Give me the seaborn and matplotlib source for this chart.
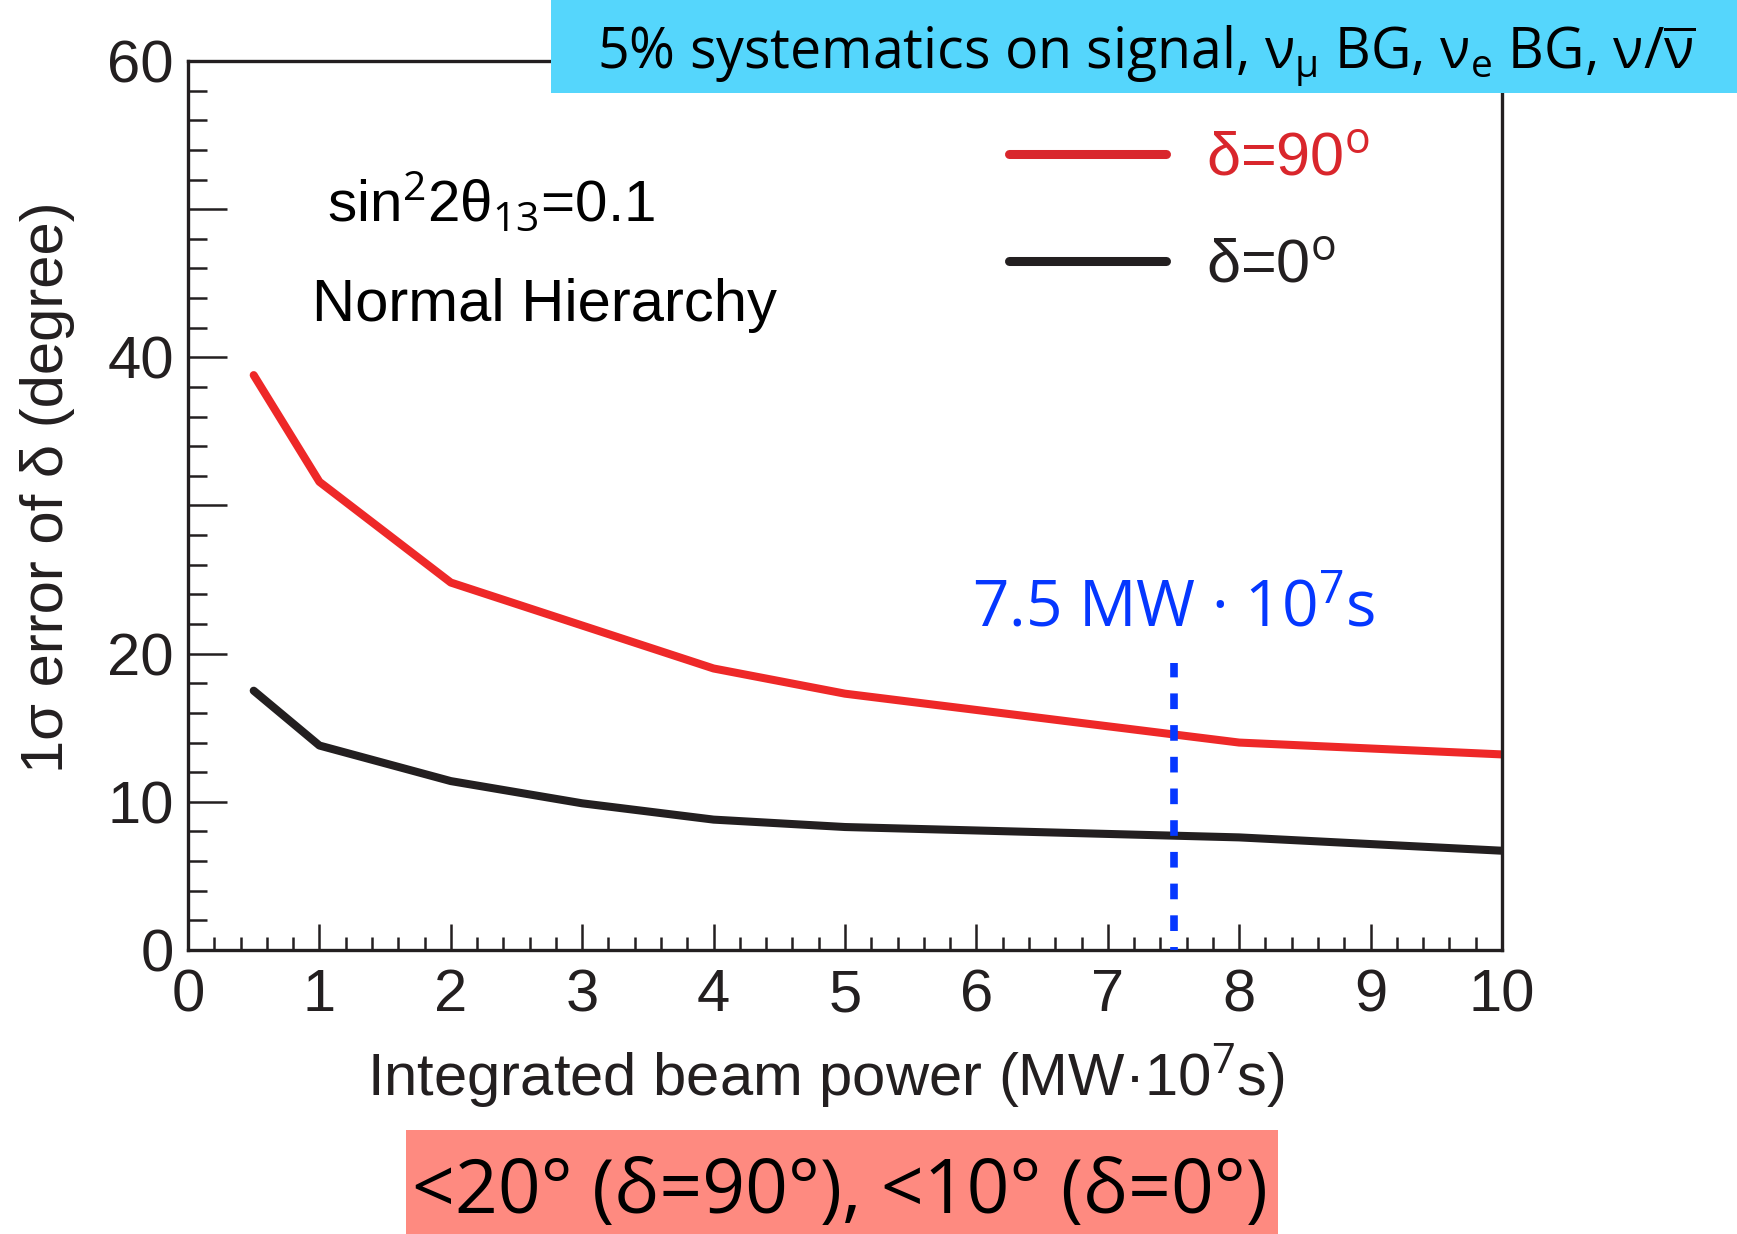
import numpy as np
import pandas as pd
import matplotlib
matplotlib.use("Agg")
import matplotlib.pyplot as plt
import seaborn as sns
from matplotlib.patches import Rectangle
from matplotlib.ticker import MultipleLocator, FixedLocator, FixedFormatter

# ---------------- data ----------------
power = [0.5, 1, 2, 3, 4, 5, 8, 10]
err_delta90 = [38.8, 31.6, 24.8, 21.9, 19.0, 17.3, 14.0, 13.2]
err_delta0 = [17.5, 13.8, 11.4, 9.9, 8.8, 8.3, 7.6, 6.7]
label_90 = "δ=90$^{\\mathrm{o}}$"
label_0 = "δ=0$^{\\mathrm{o}}$"
marker_x = 7.5
marker_top = 19.4
ytick_values = [0, 10, 20, 30, 40, 50, 60]
ytick_labels = ["0", "10", "20", "", "40", "", "60"]
xtick_values = list(range(0, 11))

# ---------------- style ----------------
sns.set_style("white")
plt.rcParams["font.family"] = ["Liberation Sans", "DejaVu Sans"]
plt.rcParams["mathtext.fontset"] = "custom"
plt.rcParams["mathtext.rm"] = "Open Sans"
plt.rcParams["mathtext.it"] = "Open Sans:italic"
plt.rcParams["mathtext.bf"] = "Open Sans:bold"

RED = "#ee2828"
LEGRED = "#d9262c"
BLACK = "#231f20"
BLUE = "#0537ff"
CYAN = "#55d6fc"
SALMON = "#fe8a80"

fig = plt.figure(figsize=(17.37, 12.34), dpi=100)
ax = fig.add_axes([188 / 1737, 1 - 950 / 1234, (1502 - 188) / 1737, (950 - 61) / 1234])

df = pd.concat([
    pd.DataFrame({"power": power, "err": err_delta90, "case": label_90}),
    pd.DataFrame({"power": power, "err": err_delta0, "case": label_0}),
], ignore_index=True)

sns.lineplot(data=df, x="power", y="err", hue="case", hue_order=[label_90, label_0],
             palette=[RED, BLACK], lw=5.8, ax=ax, estimator=None, sort=False)

ax.vlines(marker_x, 0, marker_top, colors=BLUE, linestyles=(1.66, (2.05, 2.1)), lw=5.5, zorder=5)

ax.set_xlim(0, 10)
ax.set_ylim(0, 60)

ax.xaxis.set_major_locator(FixedLocator(xtick_values))
ax.xaxis.set_minor_locator(MultipleLocator(0.2))
ax.yaxis.set_major_locator(FixedLocator(ytick_values))
ax.yaxis.set_major_formatter(FixedFormatter(ytick_labels))
ax.yaxis.set_minor_locator(MultipleLocator(2))

for s in ax.spines.values():
    s.set_linewidth(2.4)
    s.set_color(BLACK)

ax.tick_params(axis="y", which="major", direction="in", length=28, width=1.8,
               labelsize=43, pad=10, colors=BLACK, left=True, right=False)
ax.tick_params(axis="y", which="minor", direction="in", length=14, width=1.8,
               left=True, right=False, colors=BLACK)
ax.tick_params(axis="x", which="major", direction="in", length=19, width=1.8,
               labelsize=43, pad=13, colors=BLACK, bottom=True, top=False)
ax.tick_params(axis="x", which="minor", direction="in", length=9.5, width=1.8,
               bottom=True, top=False, colors=BLACK)

ax.set_xlabel("Integrated beam power (MW·10$^{7}$s)", fontsize=43, color=BLACK)
ax.set_ylabel("1σ error of δ (degree)", fontsize=43, color=BLACK)
ax.xaxis.set_label_coords(0.485, -0.103)
ax.yaxis.set_label_coords(-0.086, 0.521)

old = ax.get_legend()
handles = old.legend_handles
labels = [t.get_text() for t in old.get_texts()]
leg = ax.legend(handles, labels, loc="upper left", bbox_to_anchor=(0.625, 0.921),
                frameon=False, fontsize=44, handlelength=2.57, handletextpad=0.65,
                labelspacing=0.82, borderpad=0, borderaxespad=0)
for t, c in zip(leg.get_texts(), [LEGRED, BLACK]):
    t.set_color(c)
for ln, c in zip(leg.get_lines(), [LEGRED, BLACK]):
    ln.set_linewidth(6.5)
    ln.set_color(c)

ax.text(1.06, 50.5, "sin$^{\\mathrm{2}}$2θ$_{\\mathrm{13}}$=0.1", fontsize=42, color="black",
        va="center", ha="left")
ax.text(0.945, 43.5, "Normal Hierarchy", fontsize=43, color="black", va="center", ha="left")

ax.text(marker_x, 21.8, "7.5 MW · 10$^{7}$s", fontsize=46, color=BLUE, ha="center",
        va="baseline", family=["Open Sans", "DejaVu Sans"])

# top box
fig.add_artist(Rectangle((551 / 1737, 1 - 93 / 1234), (1737 - 551) / 1737, 93 / 1234,
                         transform=fig.transFigure, facecolor=CYAN, edgecolor="none", zorder=10))
fig.text(1146 / 1737, 1 - 68 / 1234,
         "5% systematics on signal, ν$_{\\mathrm{\\mu}}$ BG, ν$_{\\mathrm{e}}$ BG, ν/$\\mathrm{\\overline{\\nu}}$",
         fontsize=40, ha="center", va="baseline", color="black", zorder=11,
         family=["Open Sans", "DejaVu Sans"])

# bottom box
fig.add_artist(Rectangle((406 / 1737, 0), (1278 - 406) / 1737, (1234 - 1130) / 1234,
                         transform=fig.transFigure, facecolor=SALMON, edgecolor="none", zorder=10))
fig.text(840 / 1737, 1 - 1213 / 1234, "<20° (δ=90°), <10° (δ=0°)",
         fontsize=54, ha="center", va="baseline", color="black", zorder=11,
         family=["Open Sans", "DejaVu Sans"])

fig.savefig("out.png", dpi=100)
